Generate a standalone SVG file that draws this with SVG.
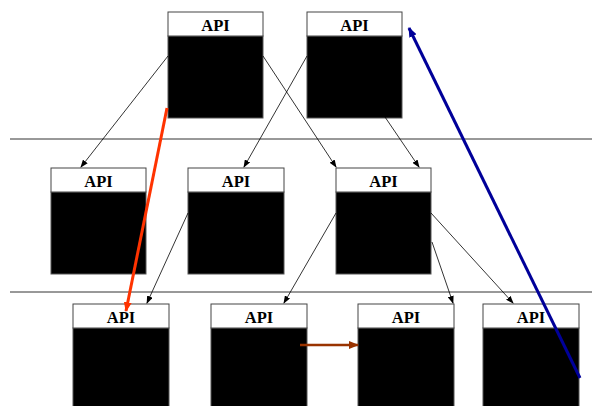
<svg xmlns="http://www.w3.org/2000/svg" width="592" height="406" viewBox="0 0 592 406">
<style>
.hd{fill:#fff;stroke:#444;stroke-width:1}
.bd{fill:#000;stroke:#555;stroke-width:1}
.t{font-family:"Liberation Serif",serif;font-weight:bold;font-size:16.5px;text-anchor:middle;fill:#000}
.c{stroke:#000;stroke-width:0.8;fill:none;marker-end:url(#a)}
.sep{stroke:#333;stroke-width:1}
</style>
<defs>
<marker id="a" markerWidth="8" markerHeight="6" refX="7" refY="3" orient="auto" markerUnits="userSpaceOnUse"><path d="M0,0 L8,3 L0,6 Z" fill="#000"/></marker>
<marker id="r" markerWidth="10" markerHeight="8" refX="9" refY="4" orient="auto" markerUnits="userSpaceOnUse"><path d="M0,0 L10,4 L0,8 Z" fill="#ff3300"/></marker>
<marker id="b" markerWidth="10" markerHeight="8" refX="9" refY="4" orient="auto" markerUnits="userSpaceOnUse"><path d="M0,0 L10,4 L0,8 Z" fill="#993300"/></marker>
<marker id="u" markerWidth="10" markerHeight="8" refX="9" refY="4" orient="auto" markerUnits="userSpaceOnUse"><path d="M0,0 L10,4 L0,8 Z" fill="#000099"/></marker>
</defs>
<line class="sep" x1="10" y1="139" x2="592" y2="139"/>
<line class="sep" x1="10" y1="292" x2="592" y2="292"/>
<g id="n1"><rect class="bd" x="168" y="36" width="95" height="82"/><rect class="hd" x="168" y="12" width="95" height="24"/><text class="t" x="215.5" y="31">API</text></g>
<g id="n2"><rect class="bd" x="307" y="36" width="95" height="82"/><rect class="hd" x="307" y="12" width="95" height="24"/><text class="t" x="354.5" y="31">API</text></g>
<g id="n3"><rect class="bd" x="51" y="192" width="95" height="82"/><rect class="hd" x="51" y="168" width="95" height="24"/><text class="t" x="98.5" y="187">API</text></g>
<g id="n4"><rect class="bd" x="188" y="192" width="96" height="82"/><rect class="hd" x="188" y="168" width="96" height="24"/><text class="t" x="236" y="187">API</text></g>
<g id="n5"><rect class="bd" x="336" y="192" width="95" height="82"/><rect class="hd" x="336" y="168" width="95" height="24"/><text class="t" x="383.5" y="187">API</text></g>
<g id="n6"><rect class="bd" x="73" y="328" width="96" height="80"/><rect class="hd" x="73" y="304" width="96" height="24"/><text class="t" x="121" y="323">API</text></g>
<g id="n7"><rect class="bd" x="211" y="328" width="96" height="80"/><rect class="hd" x="211" y="304" width="96" height="24"/><text class="t" x="259" y="323">API</text></g>
<g id="n8"><rect class="bd" x="358" y="328" width="96" height="80"/><rect class="hd" x="358" y="304" width="96" height="24"/><text class="t" x="406" y="323">API</text></g>
<g id="n9"><rect class="bd" x="483" y="328" width="96" height="80"/><rect class="hd" x="483" y="304" width="96" height="24"/><text class="t" x="531" y="323">API</text></g>
<g id="connectors">
<line class="c" x1="168" y1="56" x2="81" y2="167"/>
<line class="c" x1="263" y1="56" x2="336" y2="167"/>
<line class="c" x1="307" y1="56" x2="244" y2="167"/>
<line class="c" x1="385" y1="117" x2="419" y2="167"/>
<line class="c" x1="188" y1="213" x2="147" y2="303"/>
<line class="c" x1="336" y1="213" x2="284" y2="303"/>
<line class="c" x1="431" y1="213" x2="513" y2="303"/>
<line class="c" x1="432" y1="242" x2="453" y2="303"/>
<line x1="167" y1="108" x2="126" y2="311" stroke="#ff3300" stroke-width="3" marker-end="url(#r)"/>
<line x1="300" y1="345" x2="358" y2="345" stroke="#993300" stroke-width="2.5" marker-end="url(#b)"/>
<line x1="580" y1="378" x2="409" y2="28" stroke="#000099" stroke-width="3" marker-end="url(#u)"/>
</g>
</svg>
